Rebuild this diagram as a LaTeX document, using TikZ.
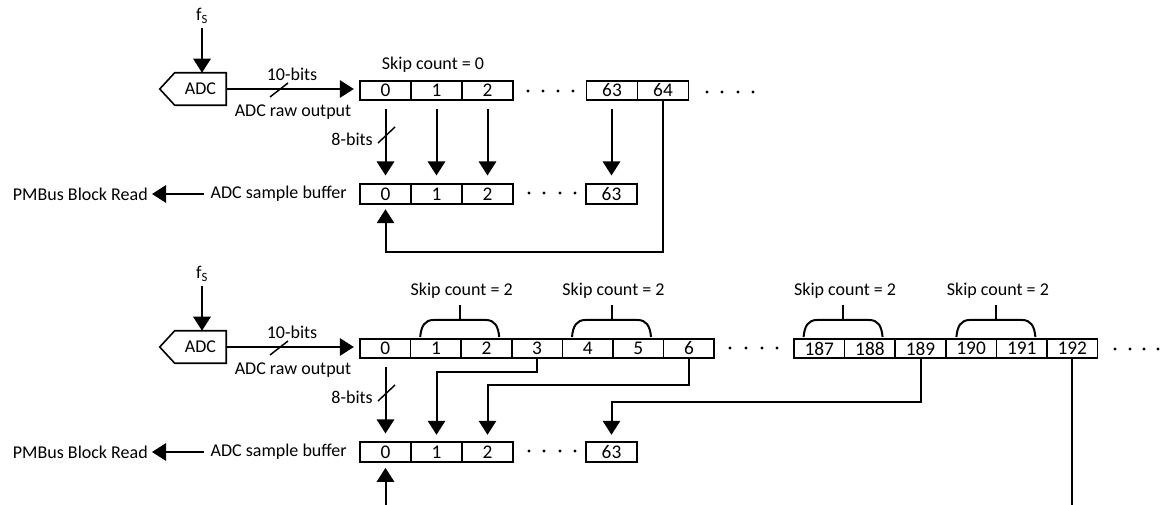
\documentclass[tikz,border=0pt]{standalone}
\usepackage{fontspec}
\setmainfont{Carlito}
\usetikzlibrary{arrows.meta,calc}
\begin{document}
\begin{tikzpicture}[x=0.75pt,y=-0.75pt,
  font=\fontsize{13.5}{16}\selectfont,
  txt/.style={inner sep=0pt},
  cell/.style={draw,line width=1.2pt,minimum width=38.25pt,minimum height=14.6pt,inner sep=0pt,font=\fontsize{14.5}{16}\selectfont},
  cellb/.style={cell,minimum width=37.95pt},
  wire/.style={line width=1.5pt},
  arr/.style={wire,-{Triangle[length=10.5pt,width=13pt]}},
  slash/.style={line width=1.1pt},
  brace/.style={line width=1.5pt},
  dot/.style={fill=black}]
\useasboundingbox (0,0) rectangle (1161,505);

% ================= Part 1 =================
\node[txt] (fs1) at (202,16) {f\textsubscript{S}};
\node[txt,minimum width=38.25pt,minimum height=24pt] (adc1) at (200.5,89) {ADC};
\draw[line width=1.2pt] (adc1.north west) -- (adc1.north east) -- (adc1.south east)
  -- (adc1.south west) -- ($(adc1.west)+(-15,0)$) -- cycle;
\draw[arr,shorten <=3pt] (fs1.south) -- (fs1.south |- adc1.north);

\foreach \i in {0,1,2} \node[cell] (t\i) at ({385.5+51*\i},90.5) {\i};
\node[cell] (t63) at (612,90.5) {63};
\node[cell] (t64) at (663,90.5) {64};
\foreach \i in {0,1,2} \node[cell] (b\i) at ({385.5+51*\i},194) {\i};
\node[cell] (b63) at (611.5,194) {63};

\draw[arr,shorten >=4pt] (adc1.east) -- (adc1.east -| t0.west);
\draw[slash] (270,97) -- (288,83);
\node[txt] (bits10a) at (292,74) {10-bits};
\node[txt] (rawa) at (293,112) {ADC raw output};
\node[txt] (skip0) at (433,65) {Skip count = 0};

\foreach \i in {0,1,2,63}
  \draw[arr,shorten <=6pt,shorten >=6pt] (b\i.north |- t\i.south) -- (b\i.north);
\draw[slash] (378,143) -- (395,127);
\node[txt,anchor=east] (bits8a) at (373,139) {8-bits};

\coordinate (ret1) at (0,252);
\draw[arr,shorten >=3.5pt] (t64.south) |- (b0.south |- ret1) -- (b0.south);

\node[txt,anchor=east] (buf1) at (347,194) {ADC sample buffer};
\node[txt,anchor=east] (pm1) at (148,194) {PMBus Block Read};
\draw[arr,shorten <=5pt,shorten >=3pt] (buf1.west) -- (pm1.east);

\foreach \x in {528,543,558,573} \fill[dot] (\x,91) circle[radius=1.3pt];
\foreach \x in {707,722,738,753} \fill[dot] (\x,92) circle[radius=1.3pt];
\foreach \x in {529,544,560,575} \fill[dot] (\x,193) circle[radius=1.3pt];

% ================= Part 2 =================
\node[txt] (fs2) at (202,274) {f\textsubscript{S}};
\node[txt,minimum width=38.25pt,minimum height=24pt] (adc2) at (200.5,347) {ADC};
\draw[line width=1.2pt] (adc2.north west) -- (adc2.north east) -- (adc2.south east)
  -- (adc2.south west) -- ($(adc2.west)+(-15,0)$) -- cycle;
\draw[arr,shorten <=3pt] (fs2.south) -- (fs2.south |- adc2.north);

\foreach \i in {0,...,6} \node[cellb] (T\i) at ({385.3+50.6*\i},348.5) {\i};
\foreach \n [count=\k from 0] in {187,...,192}
  \node[cellb] (T\n) at ({819.3+50.6*\k},348.5) {\n};
\foreach \i in {0,1,2} \node[cell] (B\i) at ({385.5+51*\i},452) {\i};
\node[cell] (B63) at (611.5,452) {63};

\draw[arr,shorten >=4pt] (adc2.east) -- (adc2.east -| T0.west);
\draw[slash] (270,355) -- (288,341);
\node[txt] (bits10b) at (292,332) {10-bits};
\node[txt] (rawb) at (293,370) {ADC raw output};

\foreach \c [count=\k] in {459.7,611.5,843.1,995.9} {
  \draw[brace] ({\c-39.5},337) .. controls ({\c-38.5},326) and ({\c-35},320) .. ({\c-26},320)
    -- ({\c+26},320) .. controls ({\c+35},320) and ({\c+38.5},326) .. ({\c+39.5},337);
  \draw[brace] (\c,320) -- (\c,305);
  \node[txt] (skip2\k) at ({\c+2},291) {Skip count = 2};
}

\draw[arr,shorten <=6pt,shorten >=6pt] (B0.north |- T0.south) -- (B0.north);
\draw[slash] (378,401) -- (395,385);
\node[txt,anchor=east] (bits8b) at (373,397) {8-bits};

\coordinate (h3) at (0,372);
\coordinate (h6) at (0,385);
\coordinate (h189) at (0,402);
\draw[arr,shorten >=5pt] (T3.south) |- (B1.north |- h3) -- (B1.north);
\draw[arr,shorten >=5pt] (T6.south) |- (B2.north |- h6) -- (B2.north);
\draw[arr,shorten >=5pt] (T189.south) |- (B63.north |- h189) -- (B63.north);
\coordinate (e192) at (0,506);
\draw[wire] (T192.south) -- (T192.south |- e192);
\coordinate (e0) at (385.5,506);
\draw[arr,shorten >=4pt] (e0) -- (B0.south);

\node[txt,anchor=east] (buf2) at (347,452) {ADC sample buffer};
\node[txt,anchor=east] (pm2) at (148,452) {PMBus Block Read};
\draw[arr,shorten <=5pt,shorten >=3pt] (buf2.west) -- (pm2.east);

\foreach \x in {730,746,762,777} \fill[dot] (\x,348) circle[radius=1.3pt];
\foreach \x in {1115,1130,1144,1158} \fill[dot] (\x,349) circle[radius=1.3pt];
\foreach \x in {529,544,560,575} \fill[dot] (\x,451) circle[radius=1.3pt];
\end{tikzpicture}
\end{document}
